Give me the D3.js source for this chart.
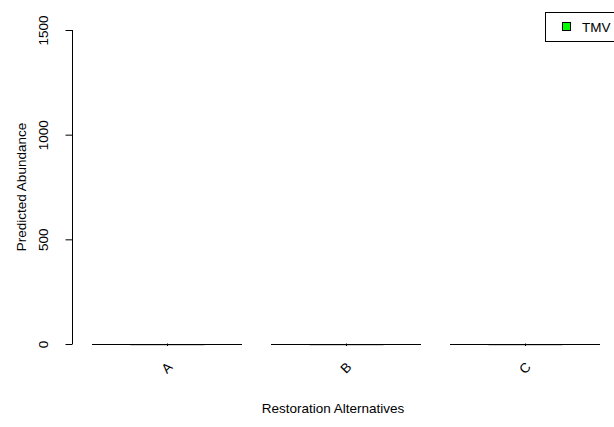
<!DOCTYPE html>
<html><head><meta charset="utf-8">
<script src="https://cdn.jsdelivr.net/npm/d3@7"></script>
<style>body{margin:0;background:#fff}svg{display:block;font-family:"Liberation Sans",Arial,sans-serif}</style>
</head><body>
<svg id="c" width="614" height="427"></svg>
<script>
const categories = ["A", "B", "C"];
const values = [0, 0, 0];
const errors = [0, 0, 0];
const yTicks = [0, 500, 1000, 1500];
const seriesName = "TMV";

const FS = 13.5;
const svg = d3.select("#c");
const y = d3.scaleLinear().domain([0, 1500]).range([344, 30]);
const x = d3.scaleBand().domain(categories).range([92, 600]).paddingInner(29 / 179).paddingOuter(0);

// y axis
const ya = svg.append("g").attr("transform", "translate(72.5,0)")
  .call(d3.axisLeft(y).tickValues(yTicks).tickSize(7).tickFormat(d3.format("d")));
ya.select(".domain").attr("stroke", "#000").attr("d", `M0,${y(0)}V${y(1500)}`);
ya.selectAll(".tick line").attr("stroke", "#000");
ya.selectAll(".tick text").attr("x", 0).attr("dy", 0)
  .attr("transform", "translate(-29,0) rotate(-90)")
  .attr("text-anchor", "middle").attr("dominant-baseline", "central")
  .attr("font-size", FS).attr("fill", "#000").style("font-family", "Liberation Sans, Arial, sans-serif");

// bars (zero height -> drawn as outline path)
svg.append("g").selectAll("path").data(values).join("path")
  .attr("d", (d, i) => {
    const x0 = x(categories[i]), x1 = x0 + x.bandwidth();
    const yt = Math.round(y(d)) + 0.5, yb = Math.round(y(0)) + 0.5;
    return `M${x0},${yb}H${x1}V${yt}H${x0}Z`;
  })
  .attr("fill", "#00ff00").attr("stroke", "#000").attr("stroke-width", 1);

// error bars (gray caps + center stems)
const eb = svg.append("g");
values.forEach((v, i) => {
  const cx = Math.round(x(categories[i]) + x.bandwidth() / 2) + 0.5;
  eb.append("line").attr("x1", cx - 37).attr("x2", cx + 37)
    .attr("y1", Math.round(y(v)) + 1.5).attr("y2", Math.round(y(v)) + 1.5)
    .attr("stroke", "#d0d0d0").attr("stroke-width", 1);
  eb.append("line").attr("x1", cx).attr("x2", cx)
    .attr("y1", y(v + errors[i]) - 0.5).attr("y2", y(v - errors[i]) + 2)
    .attr("stroke", "#000").attr("stroke-width", 1);
});

// x labels
svg.append("g").selectAll("text").data(categories).join("text")
  .attr("transform", d => `translate(${x(d) + x.bandwidth() / 2},368) rotate(-45)`)
  .attr("text-anchor", "middle").attr("dominant-baseline", "central")
  .attr("font-size", FS).text(d => d);

// axis titles
svg.append("text").attr("x", 333).attr("y", 413).attr("text-anchor", "middle")
  .attr("font-size", FS).text("Restoration Alternatives");
svg.append("text").attr("transform", "translate(26,187) rotate(-90)").attr("text-anchor", "middle")
  .attr("font-size", FS).text("Predicted Abundance");

// legend
const lg = svg.append("g");
lg.append("rect").attr("x", 545.5).attr("y", 12.5).attr("width", 80).attr("height", 29)
  .attr("fill", "#fff").attr("stroke", "#000");
lg.append("rect").attr("x", 562.5).attr("y", 22.5).attr("width", 8).attr("height", 8)
  .attr("fill", "#00ff00").attr("stroke", "#000");
lg.append("text").attr("x", 582).attr("y", 31.5).attr("font-size", FS).text(seriesName);
</script>
</body></html>
